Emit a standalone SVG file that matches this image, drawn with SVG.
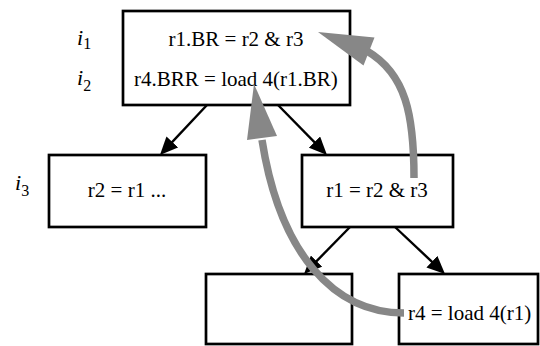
<svg xmlns="http://www.w3.org/2000/svg" width="540" height="346" viewBox="0 0 540 346">
  <style>
    .box { fill: #ffffff; stroke: #000000; stroke-width: 2.7; }
    .txt { font-family: "Liberation Serif", "Times New Roman", serif; font-size: 21px; fill: #000000; }
    .lbl { font-family: "Liberation Serif", "Times New Roman", serif; font-size: 22px; font-style: italic; fill: #000000; }
    .sub { font-size: 16px; font-style: normal; }
    .edge { stroke: #000000; stroke-width: 2.4; fill: none; }
    .dep { stroke: #878787; stroke-width: 7.5; fill: none; }
    .dephead { fill: #878787; stroke: none; }
  </style>
  <defs>
    <marker id="arrow" markerUnits="userSpaceOnUse" markerWidth="18" markerHeight="16" refX="14" refY="8" orient="auto">
      <path d="M0,0 L18,8 L0,16 z" fill="#000000"/>
    </marker>
  </defs>

  <rect width="540" height="346" fill="#ffffff"/>

  <g id="labels">
    <text class="lbl" x="77" y="45">i<tspan class="sub" dy="4">1</tspan></text>
    <text class="lbl" x="77" y="85">i<tspan class="sub" dy="6">2</tspan></text>
    <text class="lbl" x="15" y="190">i<tspan class="sub" dy="6">3</tspan></text>
  </g>

  <g id="node-top">
    <rect class="box" x="123" y="11" width="227" height="94"/>
    <text class="txt" x="236" y="46" text-anchor="middle">r1.BR = r2 &amp; r3</text>
    <text class="txt" x="236" y="86" text-anchor="middle">r4.BRR = load 4(r1.BR)</text>
  </g>

  <g id="node-mid-left">
    <rect class="box" x="49" y="155" width="157" height="72"/>
    <text class="txt" x="127" y="197" text-anchor="middle">r2 = r1 ...</text>
  </g>

  <g id="node-mid-right">
    <rect class="box" x="302" y="155" width="151" height="72"/>
    <text class="txt" x="377" y="197" text-anchor="middle">r1 = r2 &amp; r3</text>
  </g>

  <g id="node-bottom-left">
    <rect class="box" x="206" y="274" width="146" height="70"/>
  </g>

  <g id="node-bottom-right">
    <rect class="box" x="399" y="274" width="139" height="70"/>
    <text class="txt" x="408" y="320">r4 = load 4(r1)</text>
  </g>

  <g id="connectors">
    <line class="edge" x1="207" y1="105" x2="162.7" y2="152.1" marker-end="url(#arrow)"/>
    <line class="edge" x1="278" y1="105" x2="324.2" y2="152.1" marker-end="url(#arrow)"/>
    <line class="edge" x1="350" y1="227" x2="306.8" y2="271.1" marker-end="url(#arrow)"/>
    <line class="edge" x1="395" y1="227" x2="442.1" y2="271.3" marker-end="url(#arrow)"/>

    <path class="dep" d="M414,178 C414,115 406,74 367,51"/>
    <polygon class="dephead" points="318,32 374.5,37.5 363.5,65.5"/>

    <path class="dep" d="M404,313 C335,313 280,255 262,140"/>
    <polygon class="dephead" points="254,84 277,136 247,140"/>
  </g>
</svg>
